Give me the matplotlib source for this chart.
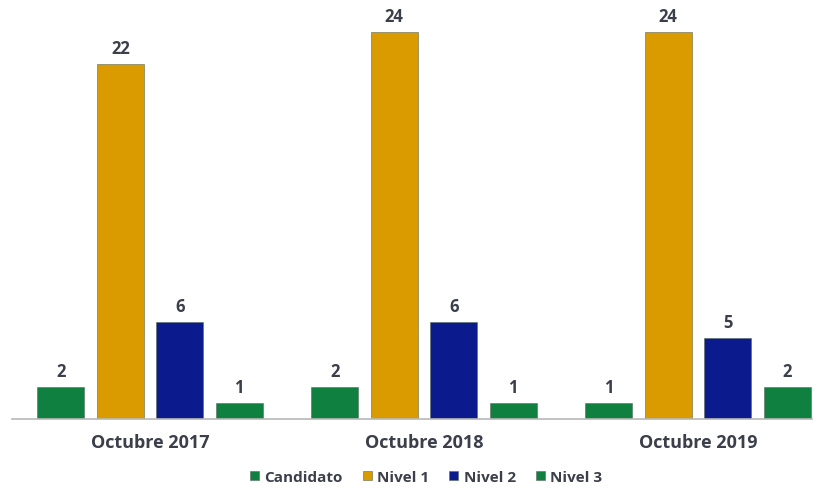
import matplotlib.pyplot as plt
import numpy as np

plt.rcParams['font.family'] = ['Open Sans', 'DejaVu Sans']

periodos = ['Octubre 2017', 'Octubre 2018', 'Octubre 2019']
series = ['Candidato', 'Nivel 1', 'Nivel 2', 'Nivel 3']
valores = [
    [2, 2, 1],
    [22, 24, 24],
    [6, 6, 5],
    [1, 1, 2],
]
colores = ['#108040', '#D99B00', '#0B1A8C', '#108040']
texto = '#3A3F4A'

fig = plt.figure(figsize=(8.23, 4.89), dpi=100)
ax = fig.add_axes([12 / 823, 69 / 489, 800 / 823, 403 / 489])

x = np.arange(len(periodos))
paso = 0.217
ancho = 0.172
for i, (nombre, vals, c) in enumerate(zip(series, valores, colores)):
    pos = x + (i - 1.5) * paso
    barras = ax.bar(pos, vals, ancho, color=c, edgecolor='#5a6a60', linewidth=0.4, label=nombre)
    ax.bar_label(barras, padding=5, fontsize=12, fontweight='bold', color=texto)

ax.set_xlim(-0.504, 2.416)
ax.set_ylim(0, 25)
ax.set_yticks([])
ax.set_xticks(x)
ax.set_xticklabels(periodos, fontsize=13, fontweight='bold', color=texto)
ax.tick_params(axis='x', length=0, pad=10)
for s in ['top', 'right', 'left']:
    ax.spines[s].set_visible(False)
ax.spines['bottom'].set_color('#b8b8b8')
ax.spines['bottom'].set_linewidth(1.2)

fig.legend(*ax.get_legend_handles_labels(), loc='center', bbox_to_anchor=(426 / 823, 1 - 478 / 489),
           ncol=4, frameon=False, handlelength=0.6, handleheight=0.6, handletextpad=0.35,
           columnspacing=1.3, prop={'size': 11, 'weight': 'bold'}, labelcolor=texto)

fig.savefig('out.png', dpi=100)
